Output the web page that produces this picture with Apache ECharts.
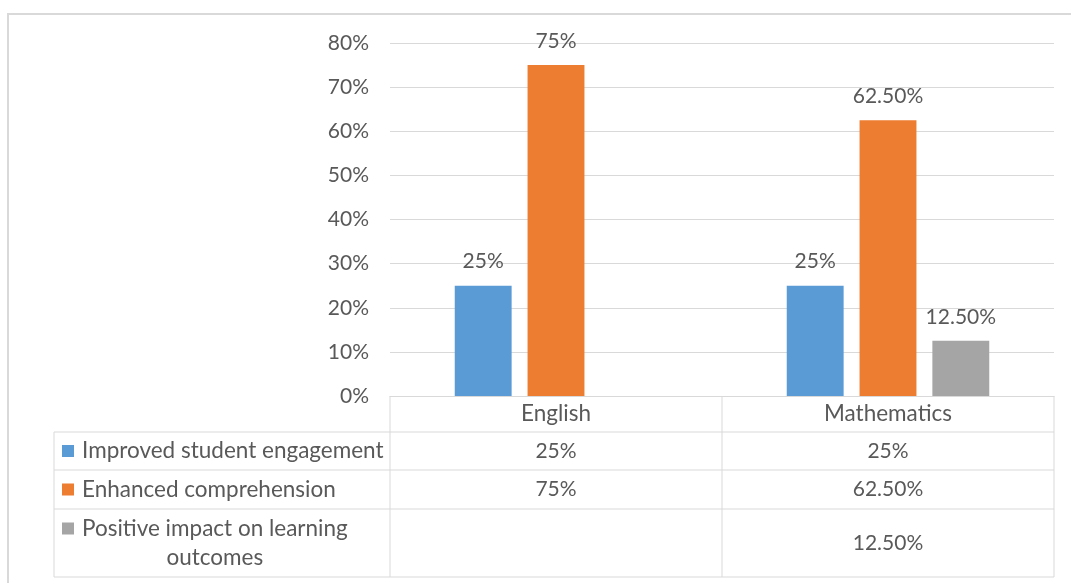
<!DOCTYPE html>
<html>
<head>
<meta charset="utf-8">
<script src="https://cdn.jsdelivr.net/npm/echarts@6/dist/echarts.min.js"></script>
<style>
  html, body { margin: 0; padding: 0; background: #fff; }
  #chart { width: 1071px; height: 583px; }
</style>
</head>
<body>
<div id="chart"></div>
<script>
// Subjects on the category axis
const categories = ['English', 'Mathematics'];

// Share of responses per outcome (percent); null = no response
const seriesNames = [
  'Improved student engagement',
  'Enhanced comprehension',
  'Positive impact on learning outcomes'
];
const engagement = [25, 25];
const comprehension = [75, 62.5];
const learningOutcomes = [null, 12.5];
const seriesValues = [engagement, comprehension, learningOutcomes];
const seriesColors = ['#5B9BD5', '#ED7D31', '#A5A5A5'];

// Value axis
const yMin = 0, yMax = 80, yStep = 10;

const FONT = 'Lato, "Open Sans", sans-serif';
const NUM_SIZE = 21;    // percentages
const WORD_SIZE = 22.5; // category and series names
const TEXT = '#595959';
const LINE = '#d9d9d9';

function fmtPct(v) {
  if (v === null || v === undefined) return '';
  return Number.isInteger(v) ? v + '%' : v.toFixed(2) + '%';
}

const chart = echarts.init(document.getElementById('chart'), null, { renderer: 'canvas' });

const option = {
  animation: false,
  backgroundColor: '#fff',
  textStyle: { fontFamily: FONT },
  grid: { left: 390, top: 43, width: 664, height: 353 },
  xAxis: {
    type: 'category',
    data: categories,
    axisLine: { show: true, lineStyle: { color: LINE, width: 1 } },
    axisTick: { show: false },
    axisLabel: { fontSize: WORD_SIZE, color: TEXT, fontFamily: FONT, margin: 6 }
  },
  yAxis: {
    type: 'value',
    min: yMin, max: yMax, interval: yStep,
    axisLine: { show: false },
    axisTick: { show: false },
    splitLine: { lineStyle: { color: LINE, width: 1 } },
    axisLabel: {
      fontSize: NUM_SIZE, color: TEXT, fontFamily: FONT, margin: 21,
      formatter: v => v + '%'
    }
  },
  series: seriesNames.map((name, i) => ({
    name: name,
    type: 'bar',
    data: seriesValues[i],
    barGap: '28%',
    barCategoryGap: '39%',
    itemStyle: { color: seriesColors[i] },
    label: {
      show: true,
      position: 'top',
      distance: 13,
      fontSize: NUM_SIZE,
      lineHeight: 22,
      color: TEXT,
      fontFamily: FONT,
      formatter: p => fmtPct(p.value)
    }
  }))
};

chart.setOption(option);

// ---- Data table under the plot ----
function buildTable() {
  const cx = categories.map(c => chart.convertToPixel({ xAxisIndex: 0 }, c));
  const band = cx.length > 1 ? cx[1] - cx[0] : 664;
  const colEdges = [cx[0] - band / 2].concat(cx.map(x => x + band / 2));
  const top = chart.convertToPixel({ yAxisIndex: 0 }, yMin);
  const tableLeft = 54;
  const rowHeights = [36, 38, 39, 68];
  const rowEdges = [top];
  rowHeights.forEach(h => rowEdges.push(rowEdges[rowEdges.length - 1] + h));
  const right = colEdges[colEdges.length - 1];

  const els = [];
  const line = (x1, y1, x2, y2) => els.push({
    type: 'line', silent: true,
    shape: { x1, y1, x2, y2 },
    style: { stroke: LINE, lineWidth: 1 }
  });

  // horizontal rules
  for (let r = 1; r < rowEdges.length; r++) line(tableLeft, rowEdges[r], right, rowEdges[r]);
  // vertical rules
  line(tableLeft, rowEdges[1], tableLeft, rowEdges[rowEdges.length - 1]);
  colEdges.forEach(x => line(x, rowEdges[0], x, rowEdges[rowEdges.length - 1]));

  // text measurement for wrapping the legend column
  const wordFont = WORD_SIZE + 'px ' + FONT;
  const numFont = NUM_SIZE + 'px ' + FONT;
  const ctx = document.createElement('canvas').getContext('2d');
  ctx.font = wordFont;
  const textLeft = 82, markerLeft = 62, markerSize = 12;
  const maxW = colEdges[0] - textLeft - 6;
  const lineH = 29;

  seriesNames.forEach((name, i) => {
    const y0 = rowEdges[i + 1], y1 = rowEdges[i + 2];
    const mid = (y0 + y1) / 2;
    // greedy word wrap
    const words = name.split(' ');
    const lines = [];
    let cur = '';
    words.forEach(w => {
      const t = cur ? cur + ' ' + w : w;
      if (ctx.measureText(t).width > maxW && cur) { lines.push(cur); cur = w; }
      else cur = t;
    });
    if (cur) lines.push(cur);
    const blockW = Math.max(...lines.map(l => ctx.measureText(l).width));
    const firstY = mid - (lines.length - 1) * lineH / 2;
    els.push({
      type: 'rect', silent: true,
      shape: { x: markerLeft, y: firstY - markerSize / 2, width: markerSize, height: markerSize },
      style: { fill: seriesColors[i] }
    });
    lines.forEach((l, k) => els.push({
      type: 'text', silent: true,
      x: textLeft + blockW / 2, y: firstY + k * lineH,
      style: {
        text: l, font: wordFont, fill: TEXT,
        align: 'center', verticalAlign: 'middle'
      }
    }));
    // values per category
    seriesValues[i].forEach((v, j) => {
      if (v === null) return;
      els.push({
        type: 'text', silent: true,
        x: cx[j], y: mid,
        style: {
          text: fmtPct(v), font: numFont, fill: TEXT,
          align: 'center', verticalAlign: 'middle'
        }
      });
    });
  });

  // chart frame
  els.push({
    type: 'rect', silent: true, z: -1,
    shape: { x: 8, y: 14, width: 1100, height: 620 },
    style: { fill: 'none', stroke: LINE, lineWidth: 2 }
  });

  chart.setOption({ graphic: { elements: els } });
}

buildTable();
</script>
</body>
</html>
